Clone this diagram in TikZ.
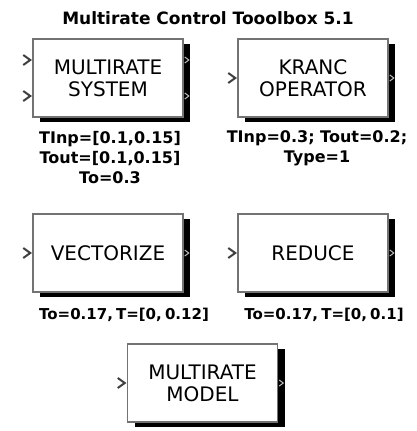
\documentclass[tikz,border=0pt]{standalone}
\usepackage{fontspec}
\setmainfont{DejaVu Sans}
\newfontfamily\tightfont[WordSpace=0.6]{DejaVu Sans}
\usetikzlibrary{positioning, shadows}

\begin{document}
\begin{tikzpicture}[x=1pt,y=1pt,node distance=205pt]
  \tikzstyle{block}=[draw=black!55, line width=1.5pt, fill=white,
    minimum width=150pt, minimum height=78pt, align=center,
    font=\fontsize{20}{22}\selectfont,
    drop shadow={shadow xshift=7pt, shadow yshift=-5pt, fill=black, opacity=1}]
  \tikzstyle{note}=[align=center, inner sep=0pt, font=\bfseries\fontsize{16}{20}\selectfont]
  \tikzstyle{shortnote}=[note, font=\tightfont\bfseries\fontsize{15}{20}\selectfont]
  \tikzstyle{inport}=[draw=black!75, line width=2pt]
  \tikzstyle{outport}=[draw=black!25, line width=1pt]
  \useasboundingbox (0,0) rectangle (417,-431);

  \node[font=\bfseries\fontsize{17}{20}\selectfont] (title) at (208,-18) {Multirate Control Tooolbox 5.1};

  \node[block] (sys)   at (108,-78)       {MULTIRATE\\SYSTEM};
  \node[block] (kranc) [right of=sys]     {KRANC\\OPERATOR};
  \node[block] (vec)   at (108,-253)      {VECTORIZE};
  \node[block] (red)   [right of=vec]     {REDUCE};
  \node[block] (mdl)   at (202.5,-383)    {MULTIRATE\\MODEL};

  \node[note] (sysnote)   [below=13pt of sys, xshift=2pt]   {TInp=[0.1,0.15]\\Tout=[0.1,0.15]\\To=0.3};
  \node[note] (krancnote) [below=13pt of kranc, xshift=4pt] {TInp=0.3; Tout=0.2;\\Type=1};
  \node[shortnote] (vecnote) [below=15pt of vec, xshift=16pt] {To=0.17, T=[0, 0.12]};
  \node[shortnote] (rednote) [below=15pt of red, xshift=11pt] {To=0.17, T=[0, 0.1]};

  % ports
  \foreach \dy in {23,-13} {
    \draw[inport] ([xshift=-9pt,yshift=\dy pt]sys.west) -- ++(7,-5) -- ++(-7,-5);
    \draw[outport] ([xshift=1pt,yshift=\dy pt-2pt]sys.east) -- ++(4,-3) -- ++(-4,-3);
  }
  \foreach \b in {kranc,vec,red,mdl} {
    \draw[inport] ([xshift=-9pt,yshift=5pt]\b.west) -- ++(7,-5) -- ++(-7,-5);
    \draw[outport] ([xshift=1pt,yshift=3pt]\b.east) -- ++(4,-3) -- ++(-4,-3);
  }
\end{tikzpicture}
\end{document}
